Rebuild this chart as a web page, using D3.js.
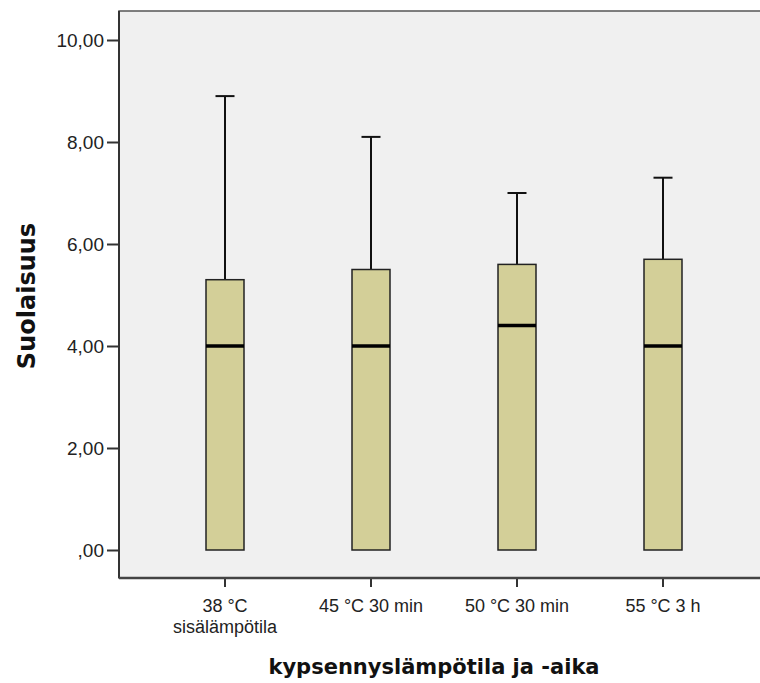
<!DOCTYPE html>
<html>
<head>
<meta charset="utf-8">
<script src="https://cdn.jsdelivr.net/npm/d3@7"></script>
<style>
  body { margin: 0; background: #fff; }
  svg { display: block; }
  .tick text { font-family: "Liberation Sans", Arial, sans-serif; font-size: 19px; fill: #222; }
  .xlab { font-size: 18px !important; }
  .title { font-family: "DejaVu Sans", Verdana, sans-serif; font-weight: bold; font-size: 21px; fill: #111; }
</style>
</head>
<body>
<script>
const WIDTH = 760;
const HEIGHT = 683;

// data
var categories = ['38 °C\nsisälämpötila', '45 °C 30 min', '50 °C 30 min', '55 °C 3 h'];
var whiskerLow = [0, 0, 0, 0];
var q1 = [0, 0, 0, 0];
var median = [4.0, 4.0, 4.4, 4.0];
var q3 = [5.3, 5.5, 5.6, 5.7];
var whiskerHigh = [8.9, 8.1, 7.0, 7.3];
var yTicks = [0, 2, 4, 6, 8, 10];

var boxes = categories.map(function (c, i) {
    return { cat: c, lo: whiskerLow[i], q1: q1[i], med: median[i], q3: q3[i], hi: whiskerHigh[i] };
});

var plotLeft = 119, plotRight = 770, plotTop = 11, plotBottom = 578;

var svg = d3.select('body').append('svg')
    .attr('width', WIDTH)
    .attr('height', HEIGHT);

// plot background and frame
svg.append('rect')
    .attr('x', plotLeft)
    .attr('y', plotTop)
    .attr('width', plotRight - plotLeft)
    .attr('height', plotBottom - plotTop)
    .attr('fill', '#f0f0f0')
    .attr('stroke', '#555')
    .attr('stroke-width', 1.5);

var xScale = d3.scaleBand()
    .domain(categories)
    .range([152, 736]);

var yScale = d3.scaleLinear()
    .domain([0, 10])
    .range([550, 40]);

var fmt = function (d) {
    var s = d.toFixed(2).replace('.', ',');
    return s.charAt(0) === '0' ? s.slice(1) : s;
};

var yAxis = d3.axisLeft(yScale).tickValues(yTicks).tickFormat(fmt).tickSize(12).tickPadding(3);
var gy = svg.append('g')
    .attr('transform', 'translate(' + plotLeft + ',0)')
    .call(yAxis);
gy.select('.domain').remove();
gy.selectAll('.tick line').attr('stroke', '#333').attr('stroke-width', 2);
gy.append('line')
    .attr('x1', 0).attr('x2', 0)
    .attr('y1', plotTop).attr('y2', plotBottom)
    .attr('stroke', '#333').attr('stroke-width', 2);

var xAxis = d3.axisBottom(xScale).tickSize(9).tickPadding(8).tickFormat('');
var gx = svg.append('g')
    .attr('transform', 'translate(0,' + plotBottom + ')')
    .call(xAxis);
gx.select('.domain').remove();
gx.selectAll('.tick line').attr('stroke', '#333').attr('stroke-width', 2);
gx.append('line')
    .attr('x1', plotLeft).attr('x2', plotRight)
    .attr('y1', 0).attr('y2', 0)
    .attr('stroke', '#444').attr('stroke-width', 2.5);
gx.selectAll('.tick').each(function (d) {
    var lines = d.split('\n');
    var t = d3.select(this);
    lines.forEach(function (l, i) {
        t.append('text')
            .attr('class', 'xlab')
            .attr('fill', '#222')
            .attr('text-anchor', 'middle')
            .attr('x', 0)
            .attr('y', 34 + i * 21)
            .text(l);
    });
});

// boxplots
var bw = 38, capW = 19;
var g = svg.append('g');
var b = g.selectAll('g.box').data(boxes).enter().append('g')
    .attr('class', 'box')
    .attr('transform', function (d) { return 'translate(' + (xScale(d.cat) + xScale.bandwidth() / 2) + ',0)'; });

b.append('line')
    .attr('x1', 0).attr('x2', 0)
    .attr('y1', function (d) { return yScale(d.hi); })
    .attr('y2', function (d) { return yScale(d.q3); })
    .attr('stroke', '#111').attr('stroke-width', 2);
b.append('line')
    .attr('x1', -capW / 2).attr('x2', capW / 2)
    .attr('y1', function (d) { return yScale(d.hi); })
    .attr('y2', function (d) { return yScale(d.hi); })
    .attr('stroke', '#111').attr('stroke-width', 2);
b.append('rect')
    .attr('x', -bw / 2)
    .attr('width', bw)
    .attr('y', function (d) { return yScale(d.q3); })
    .attr('height', function (d) { return yScale(d.q1) - yScale(d.q3); })
    .attr('fill', '#d3cf98')
    .attr('stroke', '#222')
    .attr('stroke-width', 1.5);
b.append('line')
    .attr('x1', -bw / 2).attr('x2', bw / 2)
    .attr('y1', function (d) { return yScale(d.med); })
    .attr('y2', function (d) { return yScale(d.med); })
    .attr('stroke', '#000').attr('stroke-width', 3.5);

// titles
svg.append('text')
    .attr('class', 'title')
    .attr('x', (152 + 736) / 2 - 10)
    .attr('y', 674)
    .attr('text-anchor', 'middle')
    .text('kypsennyslämpötila ja -aika');

svg.append('text')
    .attr('class', 'title')
    .style('font-size', '24px')
    .attr('transform', 'translate(35,296) rotate(-90)')
    .attr('text-anchor', 'middle')
    .text('Suolaisuus');
</script>
</body>
</html>
